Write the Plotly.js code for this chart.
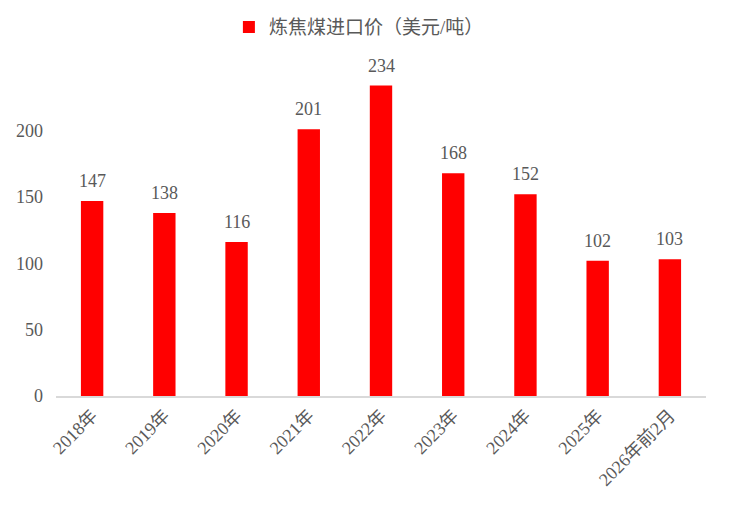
<!DOCTYPE html>
<html>
<head>
<meta charset="utf-8">
<script src="https://cdn.plot.ly/plotly-3.0.1.min.js"></script>
<style>
  html, body { margin: 0; padding: 0; background: #fff; }
  #chart { width: 730px; height: 516px; }
</style>
</head>
<body>
<div id="chart"></div>
<script>
const categories = ['2018年', '2019年', '2020年', '2021年', '2022年', '2023年', '2024年', '2025年', '2026年前2月'];
const prices = [147, 138, 116, 201, 234, 168, 152, 102, 103];
const seriesName = '炼焦煤进口价（美元/吨）';
const yTicks = [0, 50, 100, 150, 200];

const fontFamily = '"Liberation Serif", "Times New Roman", "Noto Sans CJK SC", serif';
const textGrey = '#595959';

const data = [{
    type: 'bar',
    name: seriesName,
    x: categories,
    y: prices,
    marker: { color: '#ff0000' },
    cliponaxis: false,
    hoverinfo: 'x+y'
}];

// value labels above each bar, placed via the axes
const labels = categories.map((c, i) => ({
    x: c,
    y: prices[i],
    text: String(prices[i]),
    showarrow: false,
    xanchor: 'center',
    yanchor: 'bottom',
    yshift: 8,
    font: { family: fontFamily, size: 18, color: textGrey }
}));

const layout = {
    width: 730,
    height: 516,
    margin: { l: 56, r: 24, t: 71, b: 120, autoexpand: false },
    paper_bgcolor: '#fff',
    plot_bgcolor: '#fff',
    bargap: 0.69,
    showlegend: true,
    legend: {
        orientation: 'h',
        x: 0.466,
        xanchor: 'center',
        y: 1.135,
        yanchor: 'middle',
        itemwidth: 30,
        font: { family: fontFamily, size: 19, color: textGrey }
    },
    annotations: labels,
    xaxis: {
        type: 'category',
        tickangle: -45,
        tickfont: { family: fontFamily, size: 18, color: textGrey },
        showgrid: false,
        showline: true,
        linecolor: '#d9d9d9',
        linewidth: 2,
        ticks: ''
    },
    yaxis: {
        range: [0, 245],
        tickvals: yTicks,
        ticktext: yTicks.map(String),
        tickfont: { family: fontFamily, size: 18, color: textGrey },
        showgrid: false,
        zeroline: false,
        showline: false,
        ticks: '',
        ticklabelstandoff: 12
    }
};

Plotly.newPlot('chart', data, layout, { displayModeBar: false, staticPlot: true });
</script>
</body>
</html>
